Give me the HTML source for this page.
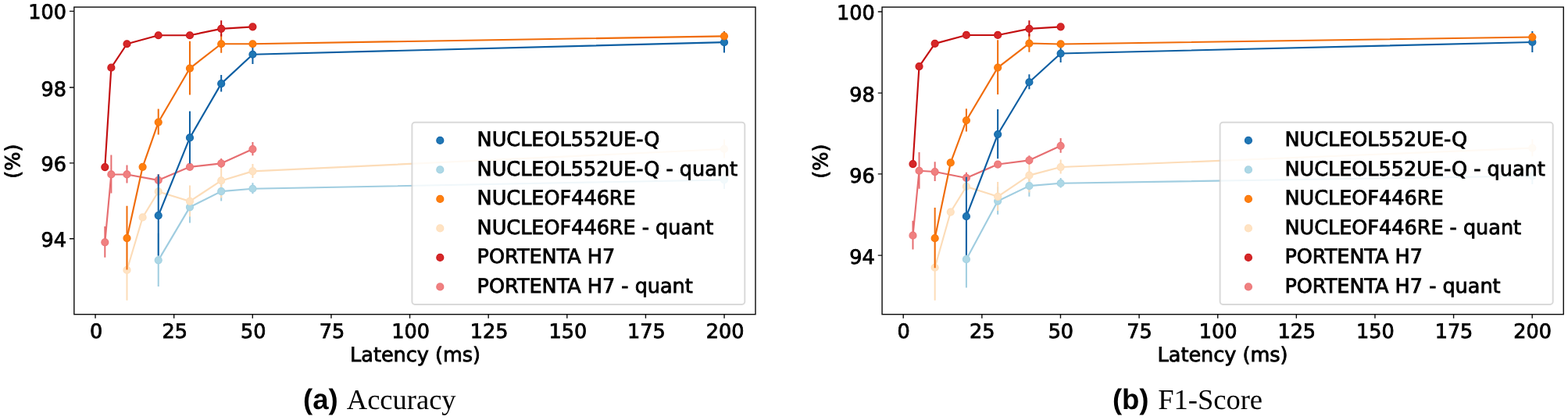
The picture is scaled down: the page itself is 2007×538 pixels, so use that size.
<!DOCTYPE html>
<html lang="en">
<head>
<meta charset="utf-8">
<title>Accuracy and F1-Score vs Latency</title>
<style>
html, body { margin: 0; padding: 0; background: #ffffff; }
body { width: 2007px; height: 538px; overflow: hidden; }
svg { display: block; }
text { font-family: "DejaVu Sans", "Liberation Sans", sans-serif; text-rendering: geometricPrecision; fill: #000000; stroke: #000000; stroke-width: 0.85px; stroke-linejoin: miter; }
text.cap { font-family: "Liberation Serif", serif; font-size: 36.5px; stroke: none; }
text.capb { font-family: "Liberation Sans", sans-serif; font-weight: bold; font-size: 36.5px; stroke: none; }
</style>
</head>
<body>
<svg width="2007" height="538" viewBox="0 0 2007 538">
<rect x="0" y="0" width="2007" height="538" fill="#ffffff"/>
<g>
<polyline points="202.72,333.35 242.96,265.35 283.19,245.15 323.43,241.75 926.95,230.35" fill="none" stroke="#a0cde0" stroke-width="2.15" stroke-linejoin="round"/>
<path d="M202.72 298.80V367.00M242.96 244.30V285.50M283.19 232.00V257.40M323.43 234.30V248.30M926.95 217.90V241.90" fill="none" stroke="#a0cde0" stroke-width="2.0"/>
<polyline points="162.49,345.95 182.60,278.45 202.72,245.45 242.96,257.85 283.19,231.45 323.43,219.35 926.95,190.95" fill="none" stroke="#fcdcb8" stroke-width="2.15" stroke-linejoin="round"/>
<path d="M162.49 306.30V384.70M242.96 237.40V277.40M283.19 208.50V253.50M323.43 209.90V227.90M926.95 178.50V202.50" fill="none" stroke="#fcdcb8" stroke-width="2.0"/>
<polyline points="134.32,310.35 142.37,223.45 162.49,223.45 202.72,230.85 242.96,213.85 283.19,209.35 323.43,191.05" fill="none" stroke="#e66e71" stroke-width="2.15" stroke-linejoin="round"/>
<path d="M134.32 290.00V329.80M142.37 198.40V247.60M162.49 211.50V234.50M202.72 223.00V237.80M283.19 203.00V214.80M323.43 181.90V199.30" fill="none" stroke="#e66e71" stroke-width="2.0"/>
<circle cx="202.72" cy="333.35" r="4.45" fill="#add8e6" stroke="#a5d2e2" stroke-width="1.3"/>
<circle cx="242.96" cy="265.35" r="4.45" fill="#add8e6" stroke="#a5d2e2" stroke-width="1.3"/>
<circle cx="283.19" cy="245.15" r="4.45" fill="#add8e6" stroke="#a5d2e2" stroke-width="1.3"/>
<circle cx="323.43" cy="241.75" r="4.45" fill="#add8e6" stroke="#a5d2e2" stroke-width="1.3"/>
<circle cx="926.95" cy="230.35" r="4.45" fill="#add8e6" stroke="#a5d2e2" stroke-width="1.3"/>
<circle cx="162.49" cy="345.95" r="4.45" fill="#ffe3c3" stroke="#fedfbc" stroke-width="1.3"/>
<circle cx="182.60" cy="278.45" r="4.45" fill="#ffe3c3" stroke="#fedfbc" stroke-width="1.3"/>
<circle cx="202.72" cy="245.45" r="4.45" fill="#ffe3c3" stroke="#fedfbc" stroke-width="1.3"/>
<circle cx="242.96" cy="257.85" r="4.45" fill="#ffe3c3" stroke="#fedfbc" stroke-width="1.3"/>
<circle cx="283.19" cy="231.45" r="4.45" fill="#ffe3c3" stroke="#fedfbc" stroke-width="1.3"/>
<circle cx="323.43" cy="219.35" r="4.45" fill="#ffe3c3" stroke="#fedfbc" stroke-width="1.3"/>
<circle cx="926.95" cy="190.95" r="4.45" fill="#ffe3c3" stroke="#fedfbc" stroke-width="1.3"/>
<circle cx="134.32" cy="310.35" r="4.45" fill="#f08080" stroke="#eb7679" stroke-width="1.3"/>
<circle cx="142.37" cy="223.45" r="4.45" fill="#f08080" stroke="#eb7679" stroke-width="1.3"/>
<circle cx="162.49" cy="223.45" r="4.45" fill="#f08080" stroke="#eb7679" stroke-width="1.3"/>
<circle cx="202.72" cy="230.85" r="4.45" fill="#f08080" stroke="#eb7679" stroke-width="1.3"/>
<circle cx="242.96" cy="213.85" r="4.45" fill="#f08080" stroke="#eb7679" stroke-width="1.3"/>
<circle cx="283.19" cy="209.35" r="4.45" fill="#f08080" stroke="#eb7679" stroke-width="1.3"/>
<circle cx="323.43" cy="191.05" r="4.45" fill="#f08080" stroke="#eb7679" stroke-width="1.3"/>
<polyline points="202.72,276.05 242.96,176.45 283.19,107.15 323.43,69.75 926.95,54.15" fill="none" stroke="#0c5ea2" stroke-width="2.15" stroke-linejoin="round"/>
<path d="M202.72 223.60V327.60M242.96 142.40V209.60M283.19 96.00V117.40M323.43 56.50V82.10M926.95 39.90V67.50" fill="none" stroke="#0c5ea2" stroke-width="2.0"/>
<polyline points="162.49,305.05 182.60,213.85 202.72,156.55 242.96,87.55 283.19,56.25 323.43,56.25 926.95,46.35" fill="none" stroke="#f06c0a" stroke-width="2.15" stroke-linejoin="round"/>
<path d="M162.49 263.70V345.50M202.72 139.60V172.60M242.96 52.70V121.50M283.19 43.80V67.80M926.95 40.40V51.40" fill="none" stroke="#f06c0a" stroke-width="2.0"/>
<polyline points="134.32,214.05 142.37,86.65 162.49,56.25 202.72,45.25 242.96,45.25 283.19,36.85 323.43,34.35" fill="none" stroke="#c30e10" stroke-width="2.15" stroke-linejoin="round"/>
<path d="M283.19 26.20V46.60" fill="none" stroke="#c30e10" stroke-width="2.0"/>
<circle cx="202.72" cy="276.05" r="4.45" fill="#1f77b4" stroke="#1668ac" stroke-width="1.3"/>
<circle cx="242.96" cy="176.45" r="4.45" fill="#1f77b4" stroke="#1668ac" stroke-width="1.3"/>
<circle cx="283.19" cy="107.15" r="4.45" fill="#1f77b4" stroke="#1668ac" stroke-width="1.3"/>
<circle cx="323.43" cy="69.75" r="4.45" fill="#1f77b4" stroke="#1668ac" stroke-width="1.3"/>
<circle cx="926.95" cy="54.15" r="4.45" fill="#1f77b4" stroke="#1668ac" stroke-width="1.3"/>
<circle cx="162.49" cy="305.05" r="4.45" fill="#ff7f0e" stroke="#f8760b" stroke-width="1.3"/>
<circle cx="182.60" cy="213.85" r="4.45" fill="#ff7f0e" stroke="#f8760b" stroke-width="1.3"/>
<circle cx="202.72" cy="156.55" r="4.45" fill="#ff7f0e" stroke="#f8760b" stroke-width="1.3"/>
<circle cx="242.96" cy="87.55" r="4.45" fill="#ff7f0e" stroke="#f8760b" stroke-width="1.3"/>
<circle cx="283.19" cy="56.25" r="4.45" fill="#ff7f0e" stroke="#f8760b" stroke-width="1.3"/>
<circle cx="323.43" cy="56.25" r="4.45" fill="#ff7f0e" stroke="#f8760b" stroke-width="1.3"/>
<circle cx="926.95" cy="46.35" r="4.45" fill="#ff7f0e" stroke="#f8760b" stroke-width="1.3"/>
<circle cx="134.32" cy="214.05" r="4.45" fill="#d62728" stroke="#cc1a1c" stroke-width="1.3"/>
<circle cx="142.37" cy="86.65" r="4.45" fill="#d62728" stroke="#cc1a1c" stroke-width="1.3"/>
<circle cx="162.49" cy="56.25" r="4.45" fill="#d62728" stroke="#cc1a1c" stroke-width="1.3"/>
<circle cx="202.72" cy="45.25" r="4.45" fill="#d62728" stroke="#cc1a1c" stroke-width="1.3"/>
<circle cx="242.96" cy="45.25" r="4.45" fill="#d62728" stroke="#cc1a1c" stroke-width="1.3"/>
<circle cx="283.19" cy="36.85" r="4.45" fill="#d62728" stroke="#cc1a1c" stroke-width="1.3"/>
<circle cx="323.43" cy="34.35" r="4.45" fill="#d62728" stroke="#cc1a1c" stroke-width="1.3"/>
<rect x="527.4" y="156.8" width="425.90" height="233.10" rx="3.6" ry="3.6" fill="#ffffff" fill-opacity="0.84" stroke="#cccccc" stroke-opacity="0.75" stroke-width="2"/>
<circle cx="563.30" cy="179.90" r="4.45" fill="#1f77b4" stroke="#1668ac" stroke-width="1.3"/>
<text transform="translate(610.60 187.10) scale(1 1.0)" font-size="25.5">NUCLEOL552UE-Q</text>
<circle cx="563.30" cy="217.40" r="4.45" fill="#add8e6" stroke="#a5d2e2" stroke-width="1.3"/>
<text transform="translate(610.60 224.60) scale(1 1.0)" font-size="25.5">NUCLEOL552UE-Q - quant</text>
<circle cx="563.30" cy="254.90" r="4.45" fill="#ff7f0e" stroke="#f8760b" stroke-width="1.3"/>
<text transform="translate(610.60 262.10) scale(1 1.0)" font-size="25.5">NUCLEOF446RE</text>
<circle cx="563.30" cy="292.40" r="4.45" fill="#ffe3c3" stroke="#fedfbc" stroke-width="1.3"/>
<text transform="translate(610.60 299.60) scale(1 1.0)" font-size="25.5">NUCLEOF446RE - quant</text>
<circle cx="563.30" cy="329.90" r="4.45" fill="#d62728" stroke="#cc1a1c" stroke-width="1.3"/>
<text transform="translate(610.60 337.10) scale(1 1.0)" font-size="25.5">PORTENTA H7</text>
<circle cx="563.30" cy="367.40" r="4.45" fill="#f08080" stroke="#eb7679" stroke-width="1.3"/>
<text transform="translate(610.60 374.60) scale(1 1.0)" font-size="25.5">PORTENTA H7 - quant</text>
<rect x="94.85" y="9.1" width="872.13" height="393.58" fill="none" stroke="#0a0a0a" stroke-width="1.4"/>
<text transform="translate(123.05 433.35) scale(1 1.0)" font-size="25.5" text-anchor="middle">0</text>
<text transform="translate(223.68 433.35) scale(1 1.0)" font-size="25.5" text-anchor="middle">25</text>
<text transform="translate(324.30 433.35) scale(1 1.0)" font-size="25.5" text-anchor="middle">50</text>
<text transform="translate(424.93 433.35) scale(1 1.0)" font-size="25.5" text-anchor="middle">75</text>
<text transform="translate(525.55 433.35) scale(1 1.0)" font-size="25.5" text-anchor="middle">100</text>
<text transform="translate(626.18 433.35) scale(1 1.0)" font-size="25.5" text-anchor="middle">125</text>
<text transform="translate(726.80 433.35) scale(1 1.0)" font-size="25.5" text-anchor="middle">150</text>
<text transform="translate(827.43 433.35) scale(1 1.0)" font-size="25.5" text-anchor="middle">175</text>
<text transform="translate(928.05 433.35) scale(1 1.0)" font-size="25.5" text-anchor="middle">200</text>
<text transform="translate(84.90 24.25) scale(1 1.0)" font-size="25.5" text-anchor="end">100</text>
<text transform="translate(84.90 122.60) scale(1 1.0)" font-size="25.5" text-anchor="end">98</text>
<text transform="translate(84.90 219.30) scale(1 1.0)" font-size="25.5" text-anchor="end">96</text>
<text transform="translate(84.90 316.05) scale(1 1.0)" font-size="25.5" text-anchor="end">94</text>
<path d="M122.05 402.68v5.0M222.68 402.68v5.0M323.30 402.68v5.0M423.93 402.68v5.0M524.55 402.68v5.0M625.18 402.68v5.0M725.80 402.68v5.0M826.43 402.68v5.0M927.05 402.68v5.0M94.85 14.35h-5.9M94.85 112.0h-5.9M94.85 208.9h-5.9M94.85 305.75h-5.9" fill="none" stroke="#0a0a0a" stroke-width="1.4"/>
<text transform="translate(531.51 462.90) scale(1 1.0)" font-size="25.5" text-anchor="middle">Latency (ms)</text>
<text transform="translate(25.40 206.59) rotate(-90) scale(1 1.0)" font-size="25.5" text-anchor="middle">(%)</text>
<text x="388.0" y="524.2" class="capb">(a)</text>
<text x="443.80" y="524.2" class="cap">Accuracy</text>
</g>
<g>
<polyline points="1236.89,332.15 1277.14,257.55 1317.39,238.15 1357.64,234.75 1961.34,225.45" fill="none" stroke="#a0cde0" stroke-width="2.15" stroke-linejoin="round"/>
<path d="M1236.89 294.80V368.60M1277.14 239.40V274.80M1317.39 223.60V251.80M1357.64 228.10V240.50M1961.34 214.00V236.00" fill="none" stroke="#a0cde0" stroke-width="2.0"/>
<polyline points="1196.65,342.75 1216.77,271.55 1236.89,238.95 1277.14,251.85 1317.39,224.65 1357.64,214.05 1961.34,189.65" fill="none" stroke="#fcdcb8" stroke-width="2.15" stroke-linejoin="round"/>
<path d="M1196.65 299.90V384.70M1277.14 232.90V269.90M1317.39 202.00V246.40M1357.64 204.60V222.60M1961.34 178.20V200.20" fill="none" stroke="#fcdcb8" stroke-width="2.0"/>
<polyline points="1168.47,301.65 1176.52,218.75 1196.65,220.05 1236.89,227.95 1277.14,210.55 1317.39,205.35 1357.64,186.85" fill="none" stroke="#e66e71" stroke-width="2.15" stroke-linejoin="round"/>
<path d="M1168.47 282.80V319.60M1176.52 194.90V241.70M1196.65 207.20V232.00M1236.89 220.80V234.20M1317.39 199.30V210.50M1357.64 177.10V195.70" fill="none" stroke="#e66e71" stroke-width="2.0"/>
<circle cx="1236.89" cy="332.15" r="4.45" fill="#add8e6" stroke="#a5d2e2" stroke-width="1.3"/>
<circle cx="1277.14" cy="257.55" r="4.45" fill="#add8e6" stroke="#a5d2e2" stroke-width="1.3"/>
<circle cx="1317.39" cy="238.15" r="4.45" fill="#add8e6" stroke="#a5d2e2" stroke-width="1.3"/>
<circle cx="1357.64" cy="234.75" r="4.45" fill="#add8e6" stroke="#a5d2e2" stroke-width="1.3"/>
<circle cx="1961.34" cy="225.45" r="4.45" fill="#add8e6" stroke="#a5d2e2" stroke-width="1.3"/>
<circle cx="1196.65" cy="342.75" r="4.45" fill="#ffe3c3" stroke="#fedfbc" stroke-width="1.3"/>
<circle cx="1216.77" cy="271.55" r="4.45" fill="#ffe3c3" stroke="#fedfbc" stroke-width="1.3"/>
<circle cx="1236.89" cy="238.95" r="4.45" fill="#ffe3c3" stroke="#fedfbc" stroke-width="1.3"/>
<circle cx="1277.14" cy="251.85" r="4.45" fill="#ffe3c3" stroke="#fedfbc" stroke-width="1.3"/>
<circle cx="1317.39" cy="224.65" r="4.45" fill="#ffe3c3" stroke="#fedfbc" stroke-width="1.3"/>
<circle cx="1357.64" cy="214.05" r="4.45" fill="#ffe3c3" stroke="#fedfbc" stroke-width="1.3"/>
<circle cx="1961.34" cy="189.65" r="4.45" fill="#ffe3c3" stroke="#fedfbc" stroke-width="1.3"/>
<circle cx="1168.47" cy="301.65" r="4.45" fill="#f08080" stroke="#eb7679" stroke-width="1.3"/>
<circle cx="1176.52" cy="218.75" r="4.45" fill="#f08080" stroke="#eb7679" stroke-width="1.3"/>
<circle cx="1196.65" cy="220.05" r="4.45" fill="#f08080" stroke="#eb7679" stroke-width="1.3"/>
<circle cx="1236.89" cy="227.95" r="4.45" fill="#f08080" stroke="#eb7679" stroke-width="1.3"/>
<circle cx="1277.14" cy="210.55" r="4.45" fill="#f08080" stroke="#eb7679" stroke-width="1.3"/>
<circle cx="1317.39" cy="205.35" r="4.45" fill="#f08080" stroke="#eb7679" stroke-width="1.3"/>
<circle cx="1357.64" cy="186.85" r="4.45" fill="#f08080" stroke="#eb7679" stroke-width="1.3"/>
<polyline points="1236.89,277.15 1277.14,172.05 1317.39,105.25 1357.64,68.55 1961.34,53.95" fill="none" stroke="#0c5ea2" stroke-width="2.15" stroke-linejoin="round"/>
<path d="M1236.89 226.70V326.70M1277.14 139.90V203.30M1317.39 95.30V114.30M1357.64 56.10V80.10M1961.34 40.10V66.90" fill="none" stroke="#0c5ea2" stroke-width="2.0"/>
<polyline points="1196.65,305.15 1216.77,208.45 1236.89,154.25 1277.14,86.55 1317.39,55.55 1357.64,56.45 1961.34,47.55" fill="none" stroke="#f06c0a" stroke-width="2.15" stroke-linejoin="round"/>
<path d="M1196.65 266.10V343.30M1236.89 139.20V168.40M1277.14 51.30V120.90M1317.39 43.50V66.70M1961.34 42.10V52.10" fill="none" stroke="#f06c0a" stroke-width="2.0"/>
<polyline points="1168.47,210.05 1176.52,85.05 1196.65,55.85 1236.89,44.95 1277.14,44.95 1317.39,36.85 1357.64,34.35" fill="none" stroke="#c30e10" stroke-width="2.15" stroke-linejoin="round"/>
<path d="M1317.39 26.20V46.60" fill="none" stroke="#c30e10" stroke-width="2.0"/>
<circle cx="1236.89" cy="277.15" r="4.45" fill="#1f77b4" stroke="#1668ac" stroke-width="1.3"/>
<circle cx="1277.14" cy="172.05" r="4.45" fill="#1f77b4" stroke="#1668ac" stroke-width="1.3"/>
<circle cx="1317.39" cy="105.25" r="4.45" fill="#1f77b4" stroke="#1668ac" stroke-width="1.3"/>
<circle cx="1357.64" cy="68.55" r="4.45" fill="#1f77b4" stroke="#1668ac" stroke-width="1.3"/>
<circle cx="1961.34" cy="53.95" r="4.45" fill="#1f77b4" stroke="#1668ac" stroke-width="1.3"/>
<circle cx="1196.65" cy="305.15" r="4.45" fill="#ff7f0e" stroke="#f8760b" stroke-width="1.3"/>
<circle cx="1216.77" cy="208.45" r="4.45" fill="#ff7f0e" stroke="#f8760b" stroke-width="1.3"/>
<circle cx="1236.89" cy="154.25" r="4.45" fill="#ff7f0e" stroke="#f8760b" stroke-width="1.3"/>
<circle cx="1277.14" cy="86.55" r="4.45" fill="#ff7f0e" stroke="#f8760b" stroke-width="1.3"/>
<circle cx="1317.39" cy="55.55" r="4.45" fill="#ff7f0e" stroke="#f8760b" stroke-width="1.3"/>
<circle cx="1357.64" cy="56.45" r="4.45" fill="#ff7f0e" stroke="#f8760b" stroke-width="1.3"/>
<circle cx="1961.34" cy="47.55" r="4.45" fill="#ff7f0e" stroke="#f8760b" stroke-width="1.3"/>
<circle cx="1168.47" cy="210.05" r="4.45" fill="#d62728" stroke="#cc1a1c" stroke-width="1.3"/>
<circle cx="1176.52" cy="85.05" r="4.45" fill="#d62728" stroke="#cc1a1c" stroke-width="1.3"/>
<circle cx="1196.65" cy="55.85" r="4.45" fill="#d62728" stroke="#cc1a1c" stroke-width="1.3"/>
<circle cx="1236.89" cy="44.95" r="4.45" fill="#d62728" stroke="#cc1a1c" stroke-width="1.3"/>
<circle cx="1277.14" cy="44.95" r="4.45" fill="#d62728" stroke="#cc1a1c" stroke-width="1.3"/>
<circle cx="1317.39" cy="36.85" r="4.45" fill="#d62728" stroke="#cc1a1c" stroke-width="1.3"/>
<circle cx="1357.64" cy="34.35" r="4.45" fill="#d62728" stroke="#cc1a1c" stroke-width="1.3"/>
<rect x="1561.6" y="156.8" width="426.10" height="233.10" rx="3.6" ry="3.6" fill="#ffffff" fill-opacity="0.84" stroke="#cccccc" stroke-opacity="0.75" stroke-width="2"/>
<circle cx="1597.90" cy="179.90" r="4.45" fill="#1f77b4" stroke="#1668ac" stroke-width="1.3"/>
<text transform="translate(1644.40 187.10) scale(1 1.0)" font-size="25.5">NUCLEOL552UE-Q</text>
<circle cx="1597.90" cy="217.40" r="4.45" fill="#add8e6" stroke="#a5d2e2" stroke-width="1.3"/>
<text transform="translate(1644.40 224.60) scale(1 1.0)" font-size="25.5">NUCLEOL552UE-Q - quant</text>
<circle cx="1597.90" cy="254.90" r="4.45" fill="#ff7f0e" stroke="#f8760b" stroke-width="1.3"/>
<text transform="translate(1644.40 262.10) scale(1 1.0)" font-size="25.5">NUCLEOF446RE</text>
<circle cx="1597.90" cy="292.40" r="4.45" fill="#ffe3c3" stroke="#fedfbc" stroke-width="1.3"/>
<text transform="translate(1644.40 299.60) scale(1 1.0)" font-size="25.5">NUCLEOF446RE - quant</text>
<circle cx="1597.90" cy="329.90" r="4.45" fill="#d62728" stroke="#cc1a1c" stroke-width="1.3"/>
<text transform="translate(1644.40 337.10) scale(1 1.0)" font-size="25.5">PORTENTA H7</text>
<circle cx="1597.90" cy="367.40" r="4.45" fill="#f08080" stroke="#eb7679" stroke-width="1.3"/>
<text transform="translate(1644.40 374.60) scale(1 1.0)" font-size="25.5">PORTENTA H7 - quant</text>
<rect x="1129.05" y="9.12" width="872.20" height="393.56" fill="none" stroke="#0a0a0a" stroke-width="1.4"/>
<text transform="translate(1156.60 433.35) scale(1 1.0)" font-size="25.5" text-anchor="middle">0</text>
<text transform="translate(1257.23 433.35) scale(1 1.0)" font-size="25.5" text-anchor="middle">25</text>
<text transform="translate(1357.85 433.35) scale(1 1.0)" font-size="25.5" text-anchor="middle">50</text>
<text transform="translate(1458.48 433.35) scale(1 1.0)" font-size="25.5" text-anchor="middle">75</text>
<text transform="translate(1559.10 433.35) scale(1 1.0)" font-size="25.5" text-anchor="middle">100</text>
<text transform="translate(1659.73 433.35) scale(1 1.0)" font-size="25.5" text-anchor="middle">125</text>
<text transform="translate(1760.35 433.35) scale(1 1.0)" font-size="25.5" text-anchor="middle">150</text>
<text transform="translate(1860.98 433.35) scale(1 1.0)" font-size="25.5" text-anchor="middle">175</text>
<text transform="translate(1961.60 433.35) scale(1 1.0)" font-size="25.5" text-anchor="middle">200</text>
<text transform="translate(1119.70 25.35) scale(1 1.0)" font-size="25.5" text-anchor="end">100</text>
<text transform="translate(1119.70 129.70) scale(1 1.0)" font-size="25.5" text-anchor="end">98</text>
<text transform="translate(1119.70 234.10) scale(1 1.0)" font-size="25.5" text-anchor="end">96</text>
<text transform="translate(1119.70 337.50) scale(1 1.0)" font-size="25.5" text-anchor="end">94</text>
<path d="M1156.20 402.68v5.0M1256.83 402.68v5.0M1357.45 402.68v5.0M1458.08 402.68v5.0M1558.70 402.68v5.0M1659.33 402.68v5.0M1759.95 402.68v5.0M1860.58 402.68v5.0M1961.20 402.68v5.0M1129.05 15.05h-5.3M1129.05 119.1h-5.3M1129.05 222.9h-5.3M1129.05 327.1h-5.3" fill="none" stroke="#0a0a0a" stroke-width="1.4"/>
<text transform="translate(1565.05 462.90) scale(1 1.0)" font-size="25.5" text-anchor="middle">Latency (ms)</text>
<text transform="translate(1058.70 206.60) rotate(-90) scale(1 1.0)" font-size="25.5" text-anchor="middle">(%)</text>
<text x="1423.9" y="524.2" class="capb">(b)</text>
<text x="1482.20" y="524.2" class="cap">F1-Score</text>
</g>
</svg>
</body>
</html>
